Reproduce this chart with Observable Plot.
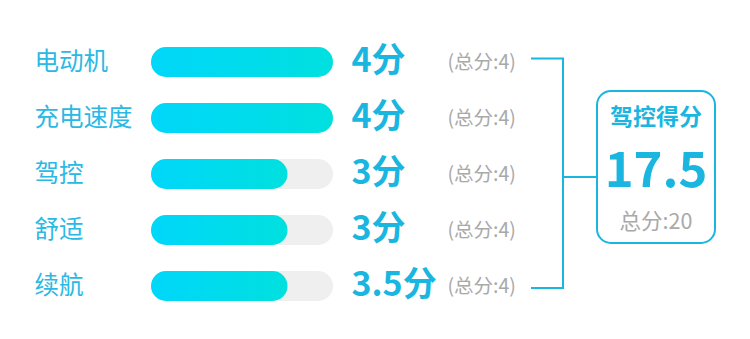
<!DOCTYPE html>
<html>
<head>
<meta charset="utf-8">
<script src="https://cdn.jsdelivr.net/npm/d3@7"></script>
<script src="https://cdn.jsdelivr.net/npm/@observablehq/plot@0.6"></script>
<style>
  html, body { margin: 0; padding: 0; background: #fff; }
  #chart svg { display: block; }
</style>
</head>
<body>
<div id="chart"></div>
<script>
// ---- data ----
const categories = ["电动机", "充电速度", "驾控", "舒适", "续航"];
const scores = [4, 4, 3, 3, 3.5];          // printed score
const barLengths = [4, 4, 3, 3, 3];        // filled length as drawn
const maxScores = [4, 4, 4, 4, 4];
const summaryTitle = "驾控得分";
const unit = "分";
const totalLabel = "总分";

const rows = categories.map((name, i) => ({
  name, score: scores[i], bar: barLengths[i], max: maxScores[i]
}));
const totalScore = d3.sum(scores);
const totalMax = d3.sum(maxScores);

const FONT = "'Noto Sans CJK SC', 'Noto Sans', sans-serif";
const CYAN = "#1ab6e0";
const LABEL = "#2ab9e4";
const GRAY = "#a9a9a9";

// summary bracket + box (drawn through the plot's scales)
function summary(index, scales) {
  const x = scales.x, y = scales.y;
  const bw = y.bandwidth ? y.bandwidth() : 0;
  const cy = c => y(c) + bw / 2;
  const xe = x(d3.max(maxScores));
  const yTop = cy(categories[0]) - 3.5;
  const yBot = cy(categories[categories.length - 1]) + 2;
  const yMid = d3.mean(categories, cy) + 3;
  const g = d3.create("svg:g");
  g.append("path")
    .attr("d", `M${xe + 198},${yTop}H${xe + 230}V${yBot}H${xe + 198}M${xe + 230},${yMid}H${xe + 264}`)
    .attr("fill", "none").attr("stroke", CYAN).attr("stroke-width", 2);
  const bx = xe + 264, bwid = 118, by = yMid - 86, bh = 152;
  g.append("rect")
    .attr("x", bx).attr("y", by).attr("width", bwid).attr("height", bh)
    .attr("rx", 14).attr("fill", "#fff").attr("stroke", CYAN).attr("stroke-width", 2);
  const cxm = bx + bwid / 2;
  g.append("text").attr("x", cxm).attr("y", yMid - 60).attr("dy", "0.36em")
    .attr("text-anchor", "middle").attr("font-family", FONT).attr("font-weight", 700)
    .attr("font-size", 23).attr("fill", CYAN).text(summaryTitle);
  g.append("text").attr("x", cxm).attr("y", yMid - 8).attr("dy", "0.36em")
    .attr("text-anchor", "middle").attr("font-family", FONT).attr("font-weight", 700)
    .attr("font-size", 49).attr("fill", CYAN).text(totalScore);
  g.append("text").attr("x", cxm).attr("y", yMid + 44).attr("dy", "0.36em")
    .attr("text-anchor", "middle").attr("font-family", FONT)
    .attr("font-size", 21.5).attr("fill", GRAY).text(`${totalLabel}:${totalMax}`);
  return g.node();
}

const chart = Plot.plot({
  width: 750,
  height: 339,
  margin: 0,
  x: { domain: [0, 4], range: [151, 333], axis: null },
  y: { domain: categories, range: [33.5, 313.5], padding: 0, axis: null },
  style: { fontFamily: FONT, background: "#fff", overflow: "visible" },
  marks: [
    Plot.barX(rows, { x: "max", y: "name", fill: "#efefef", insetTop: 13, insetBottom: 13, rx: 15 }),
    Plot.barX(rows, { x: "bar", y: "name", fill: "url(#barGrad)", insetTop: 13, insetBottom: 13, rx: 15 }),
    Plot.text(rows, { x: 0, y: "name", text: "name", dx: -117, textAnchor: "start",
      fill: LABEL, fontSize: 24.5, fontFamily: FONT }),
    Plot.text(rows, { x: "max", y: "name", text: d => d.score + unit, dx: 18, dy: -1, textAnchor: "start",
      fill: CYAN, fontSize: 34, fontWeight: 700, fontFamily: FONT }),
    Plot.text(rows, { x: "max", y: "name", text: d => `(${totalLabel}:${d.max})`, dx: 114, textAnchor: "start",
      fill: GRAY, fontSize: 19.5, fontFamily: FONT }),
    summary
  ]
});

const svg = d3.select(chart);
const grad = svg.insert("defs", ":first-child")
  .append("linearGradient").attr("id", "barGrad")
  .attr("x1", "0%").attr("x2", "100%").attr("y1", "0%").attr("y2", "0%");
grad.append("stop").attr("offset", "0%").attr("stop-color", "#00d7fa");
grad.append("stop").attr("offset", "100%").attr("stop-color", "#00e0df");

document.getElementById("chart").appendChild(chart);
</script>
</body>
</html>
